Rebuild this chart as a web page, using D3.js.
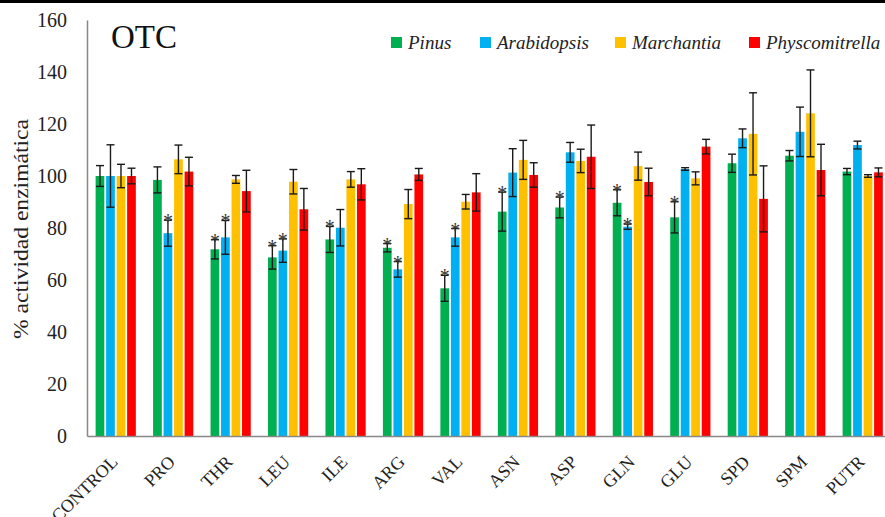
<!DOCTYPE html>
<html>
<head>
<meta charset="utf-8">
<script src="https://cdn.jsdelivr.net/npm/d3@7"></script>
<style>
  body { margin: 0; background: #fff; }
  svg { display: block; font-family: "Liberation Serif", "Times New Roman", serif; }
</style>
</head>
<body>
<div id="chart"></div>
<script>
// categories and series
const categories = ["CONTROL", "PRO", "THR", "LEU", "ILE", "ARG", "VAL", "ASN", "ASP", "GLN", "GLU", "SPD", "SPM", "PUTR"];
const series = ["Pinus", "Arabidopsis", "Marchantia", "Physcomitrella"];
const colors = ["#00B050", "#00B0F0", "#FFC000", "#FF0000"];

// % activity (mean) per series, in category order
const pinus          = [100, 98.5, 71.8, 68.7, 75.6, 72.4, 56.8, 86.3, 87.9, 89.7, 84.1, 104.9, 107.8, 101.7];
const arabidopsis    = [100, 78.0, 76.4, 71.3, 80.1, 64.1, 76.4, 101.3, 109.1, 80.5, 102.7, 114.5, 117.0, 111.9];
const marchantia     = [100, 106.4, 98.7, 97.8, 98.7, 89.2, 90.1, 106.2, 105.8, 103.8, 99.1, 116.2, 124.1, 100.0];
const physcomitrella = [100, 101.7, 94.2, 87.2, 96.8, 100.6, 93.7, 100.4, 107.4, 97.7, 111.3, 91.2, 102.3, 101.4];

// error (+/-)
const errPinus          = [4, 5, 3.7, 4.5, 5, 1.6, 5, 7.5, 4, 5, 6, 3.5, 2, 1.2];
const errArabidopsis    = [12, 5, 6.5, 4.5, 7, 3, 3.4, 9.2, 3.8, 1, 0.5, 3.6, 9.5, 1.5];
const errMarchantia     = [4.5, 5.5, 1.5, 4.7, 3, 5.6, 2.8, 7.5, 4.5, 5.4, 2.5, 15.8, 16.7, 0.5];
const errPhyscomitrella = [3, 5.5, 8, 8, 6, 2.3, 7.2, 4.7, 12.2, 5.3, 2.8, 12.7, 9.9, 1.7];

// significance marks (1 = asterisk)
const sigPinus       = [0, 0, 1, 1, 1, 1, 1, 1, 1, 1, 1, 0, 0, 0];
const sigArabidopsis = [0, 1, 1, 1, 0, 1, 1, 0, 0, 1, 0, 0, 0, 0];

const yTicks = [0, 20, 40, 60, 80, 100, 120, 140, 160];

const values = [pinus, arabidopsis, marchantia, physcomitrella];
const errors = [errPinus, errArabidopsis, errMarchantia, errPhyscomitrella];
const sigs = [sigPinus, sigArabidopsis, categories.map(() => 0), categories.map(() => 0)];

const data = [];
categories.forEach((c, i) => {
    series.forEach((s, j) => {
        data.push({cat: c, ser: s, idx: j, v: values[j][i], e: errors[j][i], sig: sigs[j][i]});
    });
});

const W = 885, H = 517;
const plotLeft = 87, plotTop = 20, plotBottom = 436;
const serif = "Liberation Serif";

const svg = d3.select("#chart").append("svg")
    .attr("width", W)
    .attr("height", H);

// black rule at the top
svg.append("rect").attr("x", 0).attr("y", 0).attr("width", W).attr("height", 3).attr("fill", "#000");

const y = d3.scaleLinear().domain([0, 160]).range([plotBottom, plotTop]);

const x0 = d3.scaleBand()
    .domain(categories)
    .range([plotLeft, plotLeft + 14 * 57.46])
    .paddingInner(0.3)
    .paddingOuter(0.15);

const x1 = d3.scaleBand()
    .domain(series)
    .range([0, x0.bandwidth()])
    .paddingInner(0.17);

// y axis
const yAxis = svg.append("g")
    .attr("transform", `translate(${plotLeft},0)`)
    .call(d3.axisLeft(y).tickValues(yTicks).tickSize(0).tickSizeOuter(0).tickPadding(20));
yAxis.select(".domain").attr("stroke", "#888").attr("stroke-width", 1.5);
yAxis.selectAll("text").attr("font-size", 20).attr("fill", "#222").attr("font-family", serif);

// bars
svg.append("g").selectAll("rect")
    .data(data)
    .enter().append("rect")
    .attr("x", d => x0(d.cat) + x1(d.ser))
    .attr("y", d => y(d.v))
    .attr("width", x1.bandwidth())
    .attr("height", d => y(0) - y(d.v))
    .attr("fill", d => colors[d.idx]);

// error bars
const eb = svg.append("g").attr("stroke", "#1a1a1a").attr("stroke-width", 1.4);
data.forEach(d => {
    const cx = x0(d.cat) + x1(d.ser) + x1.bandwidth() / 2;
    const y1 = y(d.v + d.e), y2 = y(d.v - d.e);
    eb.append("line").attr("x1", cx).attr("x2", cx).attr("y1", y1).attr("y2", y2);
    eb.append("line").attr("x1", cx - 4).attr("x2", cx + 4).attr("y1", y1).attr("y2", y1);
    eb.append("line").attr("x1", cx - 4).attr("x2", cx + 4).attr("y1", y2).attr("y2", y2);
});

// asterisks
svg.append("g").selectAll("text")
    .data(data.filter(d => d.sig))
    .enter().append("text")
    .attr("x", d => x0(d.cat) + x1(d.ser) + x1.bandwidth() / 2)
    .attr("y", d => y(d.v + d.e) + 8)
    .attr("text-anchor", "middle")
    .attr("font-size", 20)
    .attr("font-family", serif)
    .attr("fill", "#333")
    .text("*");

// x axis
const xAxis = svg.append("g")
    .attr("transform", `translate(0,${plotBottom})`)
    .call(d3.axisBottom(x0).tickSize(0).tickSizeOuter(0));
xAxis.select(".domain").attr("stroke", "#888").attr("stroke-width", 1.5);
xAxis.selectAll("text")
    .attr("font-size", 18)
    .attr("fill", "#222")
    .attr("font-family", serif)
    .attr("text-anchor", "end")
    .attr("y", 0)
    .attr("dy", 0)
    .attr("transform", "translate(3,27) rotate(-45)");

// y axis title
svg.append("text")
    .attr("transform", `translate(28,229) rotate(-90)`)
    .attr("text-anchor", "middle")
    .attr("font-size", 21)
    .attr("font-family", serif)
    .attr("textLength", 220)
    .attr("lengthAdjust", "spacingAndGlyphs")
    .attr("fill", "#222")
    .text("% actividad enzimática");

// chart label
svg.append("text")
    .attr("x", 111)
    .attr("y", 48)
    .attr("font-size", 33)
    .attr("font-family", serif)
    .attr("fill", "#111")
    .text("OTC");

// legend
const legendX = [391, 480, 615, 749];
const legend = svg.append("g");
series.forEach((s, j) => {
    legend.append("rect")
        .attr("x", legendX[j]).attr("y", 37)
        .attr("width", 11).attr("height", 11)
        .attr("fill", colors[j]);
    legend.append("text")
        .attr("x", legendX[j] + 17).attr("y", 49)
        .attr("font-size", 19)
        .attr("font-style", "italic")
        .attr("font-family", serif)
        .attr("fill", "#222")
        .text(s);
});
</script>
</body>
</html>
